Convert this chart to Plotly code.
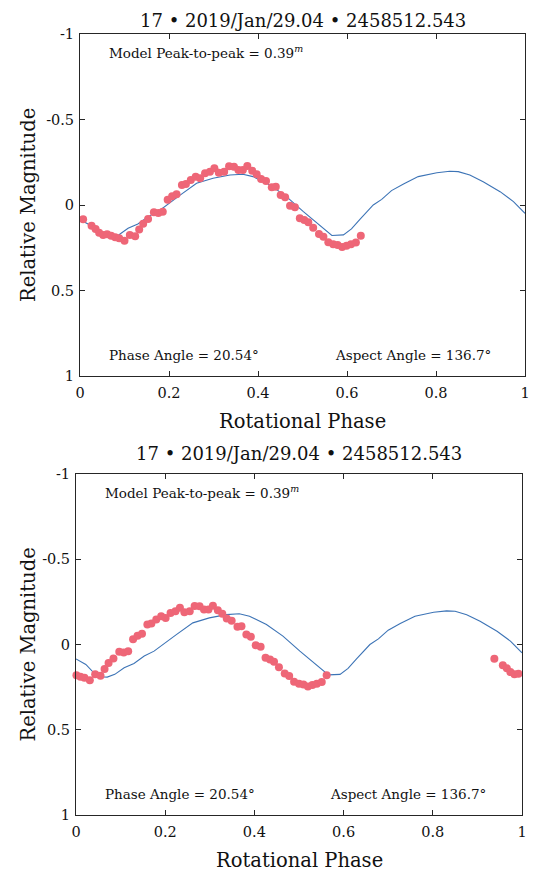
import plotly.graph_objects as go

# ---- data ----
title_text = "17 \u2022 2019/Jan/29.04 \u2022 2458512.543"
x_title = "Rotational Phase"
y_title = "Relative Magnitude"

obs_phase_top = [0.007, 0.026, 0.035, 0.043, 0.052, 0.061, 0.070, 0.079, 0.088, 0.100,
                 0.112, 0.124, 0.133, 0.142, 0.153, 0.166, 0.176, 0.186, 0.197, 0.207,
                 0.217, 0.229, 0.238, 0.249, 0.260, 0.270, 0.281, 0.292, 0.302, 0.312,
                 0.324, 0.335, 0.346, 0.356, 0.366, 0.376, 0.387, 0.397, 0.407, 0.418,
                 0.431, 0.440, 0.451, 0.461, 0.472, 0.483, 0.494, 0.504, 0.513, 0.524,
                 0.537, 0.547, 0.558, 0.569, 0.579, 0.589, 0.599, 0.609, 0.620, 0.631]

obs_phase_bottom = [0.938, 0.957, 0.966, 0.974, 0.983, 0.992, 0.001, 0.010, 0.019, 0.031,
                    0.043, 0.055, 0.064, 0.073, 0.084, 0.097, 0.107, 0.117, 0.128, 0.138,
                    0.148, 0.160, 0.169, 0.180, 0.191, 0.201, 0.212, 0.223, 0.233, 0.243,
                    0.255, 0.266, 0.277, 0.287, 0.297, 0.307, 0.318, 0.328, 0.338, 0.349,
                    0.362, 0.371, 0.382, 0.392, 0.403, 0.414, 0.425, 0.435, 0.444, 0.455,
                    0.468, 0.478, 0.489, 0.500, 0.510, 0.520, 0.530, 0.540, 0.551, 0.562]

obs_mag = [0.084, 0.121, 0.140, 0.162, 0.175, 0.171, 0.180, 0.189, 0.195, 0.209,
           0.175, 0.183, 0.144, 0.109, 0.082, 0.043, 0.047, 0.039, -0.031, -0.051,
           -0.063, -0.117, -0.123, -0.146, -0.165, -0.156, -0.185, -0.195, -0.215, -0.189,
           -0.195, -0.226, -0.224, -0.205, -0.205, -0.228, -0.201, -0.180, -0.152, -0.140,
           -0.104, -0.107, -0.058, -0.045, 0.004, 0.013, 0.078, 0.088, 0.101, 0.133,
           0.170, 0.185, 0.218, 0.230, 0.234, 0.246, 0.238, 0.230, 0.220, 0.180]

model_phase = [0.000, 0.022, 0.040, 0.055, 0.070, 0.087, 0.108, 0.130, 0.153, 0.175,
               0.225, 0.262, 0.299, 0.337, 0.366, 0.389, 0.427, 0.464, 0.502, 0.539,
               0.566, 0.592, 0.610, 0.629, 0.659, 0.678, 0.700, 0.727, 0.760, 0.802,
               0.831, 0.850, 0.876, 0.906, 0.944, 0.974, 1.000]
model_mag = [0.085, 0.117, 0.166, 0.189, 0.191, 0.175, 0.136, 0.111, 0.068, 0.039,
             -0.058, -0.127, -0.156, -0.175, -0.180, -0.166, -0.117, -0.049, 0.039, 0.117,
             0.178, 0.175, 0.140, 0.084, 0.000, -0.033, -0.084, -0.123, -0.166, -0.189,
             -0.197, -0.195, -0.175, -0.136, -0.078, -0.020, 0.049]

x_ticks = [0, 0.2, 0.4, 0.6, 0.8, 1]
x_tick_labels = ["0", "0.2", "0.4", "0.6", "0.8", "1"]
y_ticks = [-1, -0.5, 0, 0.5, 1]
y_tick_labels = ["-1", "-0.5", "0", "0.5", "1"]

peak_text = "Model Peak-to-peak = 0.39<sup><i>m</i></sup>"
phase_text = "Phase Angle = 20.54\u00b0"
aspect_text = "Aspect Angle = 136.7\u00b0"

# ---- figure ----
OFF = 8                      # page body margin
W, H = 540 - OFF, 871 - OFF  # figure size inside the page
FONT = "DejaVu Serif"
TXT = "#111111"
DOT = "#EE6677"
LINE = "#3D74B6"
FRAME = "#262626"


def fx(px):
    return (px - OFF) / W


def fy(py):
    return 1 - (py - OFF) / H


fig = go.Figure()

panels = [
    dict(phase=obs_phase_top, xpx=(80, 525), ypx=(34, 376), title_py=21, aspect_x=0.569),
    dict(phase=obs_phase_bottom, xpx=(76, 522), ypx=(474, 815), title_py=453, aspect_x=0.565),
]

for i, p in enumerate(panels):
    sfx = "" if i == 0 else "2"
    xa, ya = "x" + sfx, "y" + sfx
    fig.add_trace(go.Scatter(x=model_phase, y=model_mag, mode="lines",
                             line=dict(color=LINE, width=1.1),
                             xaxis=xa, yaxis=ya, showlegend=False))
    fig.add_trace(go.Scatter(x=p["phase"], y=obs_mag, mode="markers",
                             marker=dict(color=DOT, size=8, line=dict(width=0)),
                             cliponaxis=False,
                             xaxis=xa, yaxis=ya, showlegend=False))
    xd = [fx(p["xpx"][0]), fx(p["xpx"][1])]
    yd = [fy(p["ypx"][1]), fy(p["ypx"][0])]
    axcommon = dict(showline=True, linecolor=FRAME, linewidth=1, mirror="ticks",
                    ticks="inside", ticklen=5, tickwidth=1, tickcolor=FRAME,
                    showgrid=False, zeroline=False, automargin=False,
                    tickfont=dict(family=FONT, size=14.5, color=TXT))
    fig.update_layout(**{
        "xaxis" + sfx: dict(domain=xd, range=[0, 1], tickvals=x_ticks,
                            ticktext=x_tick_labels, anchor=ya,
                            ticklabelstandoff=4, **axcommon),
        "yaxis" + sfx: dict(domain=yd, range=[1, -1], tickvals=y_ticks,
                            ticktext=y_tick_labels, anchor=xa,
                            ticklabelstandoff=2, **axcommon),
    })
    cx = fx((p["xpx"][0] + p["xpx"][1]) / 2)
    # panel title
    fig.add_annotation(text=title_text, xref="paper", yref="paper",
                       x=cx, y=fy(p["title_py"]),
                       xanchor="center", yanchor="middle", showarrow=False,
                       borderpad=0,
                       font=dict(family=FONT, size=18, color=TXT))
    # axis titles
    fig.add_annotation(text=x_title, xref="paper", yref="paper",
                       x=cx, y=fy(p["ypx"][1] + 45),
                       xanchor="center", yanchor="middle", showarrow=False,
                       font=dict(family=FONT, size=19.5, color=TXT))
    fig.add_annotation(text=y_title, xref="paper", yref="paper",
                       x=fx(28), y=fy((p["ypx"][0] + p["ypx"][1]) / 2),
                       xanchor="center", yanchor="middle", textangle=-90, showarrow=False,
                       font=dict(family=FONT, size=19.5, color=TXT))
    xs, ys = xa + " domain", ya + " domain"
    fig.add_annotation(text=peak_text, xref=xs, yref=ys, x=0.061, y=0.947,
                       xanchor="left", yanchor="middle", showarrow=False,
                       font=dict(family=FONT, size=13.5, color=TXT))
    fig.add_annotation(text=phase_text, xref=xs, yref=ys, x=0.061, y=0.061,
                       xanchor="left", yanchor="middle", showarrow=False,
                       font=dict(family=FONT, size=13.5, color=TXT))
    fig.add_annotation(text=aspect_text, xref=xs, yref=ys, x=p["aspect_x"], y=0.061,
                       xanchor="left", yanchor="middle", showarrow=False,
                       font=dict(family=FONT, size=13.5, color=TXT))

fig.update_layout(width=W, height=H, margin=dict(l=0, r=0, t=0, b=0),
                  paper_bgcolor="white", plot_bgcolor="white")

fig.write_html("out.html")
